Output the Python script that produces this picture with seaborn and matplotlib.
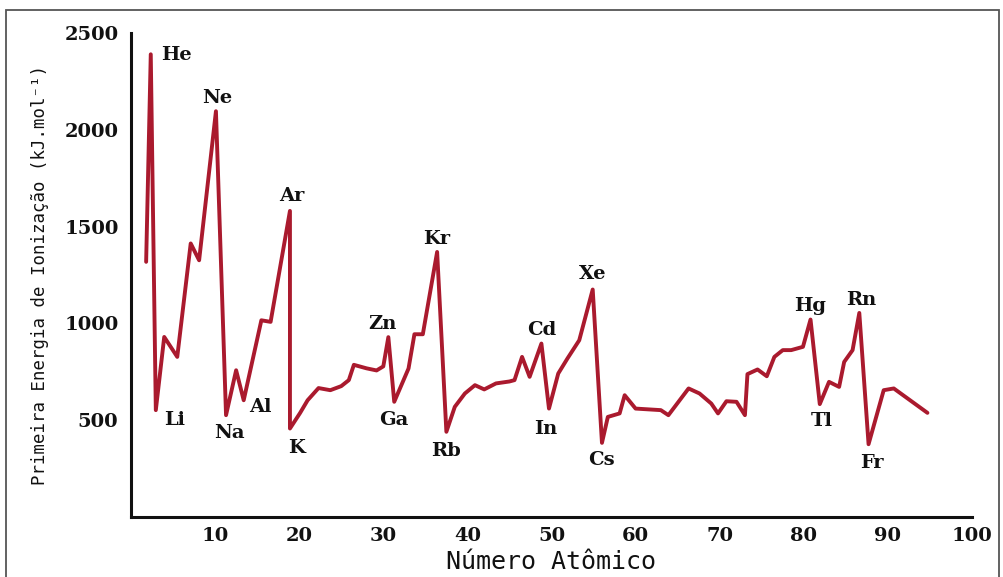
import matplotlib
matplotlib.use("Agg")
import matplotlib.pyplot as plt
from matplotlib.patches import Rectangle
import pandas as pd
import seaborn as sns

# Vertices of the ionization-energy curve (atomic number position, kJ/mol)
z_pos = [1.8, 2.35, 2.95, 3.95, 5.5, 7.1, 8.1, 10.1, 11.3, 12.5, 13.4, 15.5,
         16.6, 18.9, 18.9, 20.1, 21.0, 22.3, 23.7, 25.0, 25.9, 26.5, 28.0,
         29.2, 30.0, 30.6, 31.3, 33.0, 33.7, 34.7, 36.4, 37.5, 38.5, 39.7,
         40.9, 42.0, 43.4, 45.0, 45.6, 46.5, 47.4, 48.8, 49.7, 50.8, 51.9,
         53.3, 54.9, 56.0, 56.7, 58.1, 58.7, 60.0, 63.0, 63.9, 66.3, 67.6,
         69.0, 69.8, 70.8, 72.0, 73.0, 73.3, 74.5, 75.6, 76.5, 77.5, 78.5,
         79.9, 80.8, 81.9, 83.0, 84.2, 84.8, 85.8, 86.6, 87.7, 89.5, 90.7,
         94.7]
energy = [1318, 2390, 552, 930, 827, 1413, 1326, 2096, 526, 758, 603, 1016,
          1008, 1581, 457, 537, 603, 666, 655, 676, 707, 786, 768,
          757, 778, 929, 595, 767, 944, 944, 1369, 440, 569, 638,
          681, 659, 690, 700, 707, 827, 724, 896, 560, 741, 819,
          913, 1175, 383, 517, 535, 629, 560, 552, 526, 664, 638,
          586, 535, 598, 595, 526, 738, 762, 727, 827, 862, 862,
          879, 1020, 583, 698, 672, 801, 862, 1054, 376, 655, 664,
          538]

# Element names attached to curve vertices (index into the arrays above)
element_names = ["He", "Ne", "Li", "Na", "Al", "Ar", "K", "Zn", "Ga", "Kr",
                 "Rb", "Cd", "In", "Xe", "Cs", "Hg", "Tl", "Rn", "Fr"]
element_vertex = [1, 7, 2, 8, 10, 13, 14, 25, 26, 30,
                  31, 41, 42, 46, 47, 68, 69, 74, 75]
# label offsets from the vertex, in pixels
label_offsets = [(26, -1), (1, 13), (19, -10), (3, -18), (17, -7), (2, 15),
                 (7, -19), (-6, 13), (0, -18), (0, 13), (0, -19), (0, 14),
                 (-3, -20), (0, 16), (-1, -17), (0, 14), (2, -17), (2, 13),
                 (3, -19)]

x_ticks = [10, 20, 30, 40, 50, 60, 70, 80, 90, 100]
y_ticks = [500, 1000, 1500, 2000, 2500]

sns.set_style("white")
plt.rcParams["font.family"] = ["DejaVu Serif"]

fig = plt.figure(figsize=(10.04, 5.77), dpi=100)
ax = fig.add_axes([131 / 1004, 60 / 577, 841 / 1004, 484 / 577])

df = pd.DataFrame({"z": z_pos, "e": energy})
sns.lineplot(data=df, x="z", y="e", sort=False, estimator=None,
             color="#AA1A2E", linewidth=2.8, ax=ax)

ax.set_xlim(0, 100)
ax.set_ylim(0, 2500)
ax.set_xticks(x_ticks)
ax.set_yticks(y_ticks)
ax.set_xticklabels([str(t) for t in x_ticks], fontweight="bold", fontsize=14)
ax.set_yticklabels([str(t) for t in y_ticks], fontweight="bold", fontsize=14)
ax.tick_params(axis="x", direction="in", length=10, width=2, pad=7, colors="#111111")
ax.tick_params(axis="y", direction="in", length=15, width=2, pad=9, colors="#111111")

sns.despine(ax=ax)
for side in ("left", "bottom"):
    ax.spines[side].set_linewidth(2.2)
    ax.spines[side].set_color("#111111")

ax.set_xlabel("Número Atômico", family="DejaVu Sans Mono", fontsize=18,
              color="#111111", labelpad=4)
ax.set_ylabel("Primeira Energia de Ionização (kJ.mol⁻¹)",
              family="DejaVu Sans Mono", fontsize=12.5, color="#111111")
ax.yaxis.set_label_coords(-0.097, 0.5)

for name, idx, (dx, dy) in zip(element_names, element_vertex, label_offsets):
    ax.annotate(name, xy=(z_pos[idx], energy[idx]), xytext=(dx, dy),
                textcoords="offset pixels", ha="center", va="center",
                fontsize=14, fontweight="bold", color="#111111")

# thin frame around the figure
fig.add_artist(Rectangle((6 / 1004, -0.05), 993 / 1004, 0.05 + 567 / 577,
                         transform=fig.transFigure, fill=False,
                         edgecolor="#555555", linewidth=1.3))

fig.savefig("out.png", dpi=100)
